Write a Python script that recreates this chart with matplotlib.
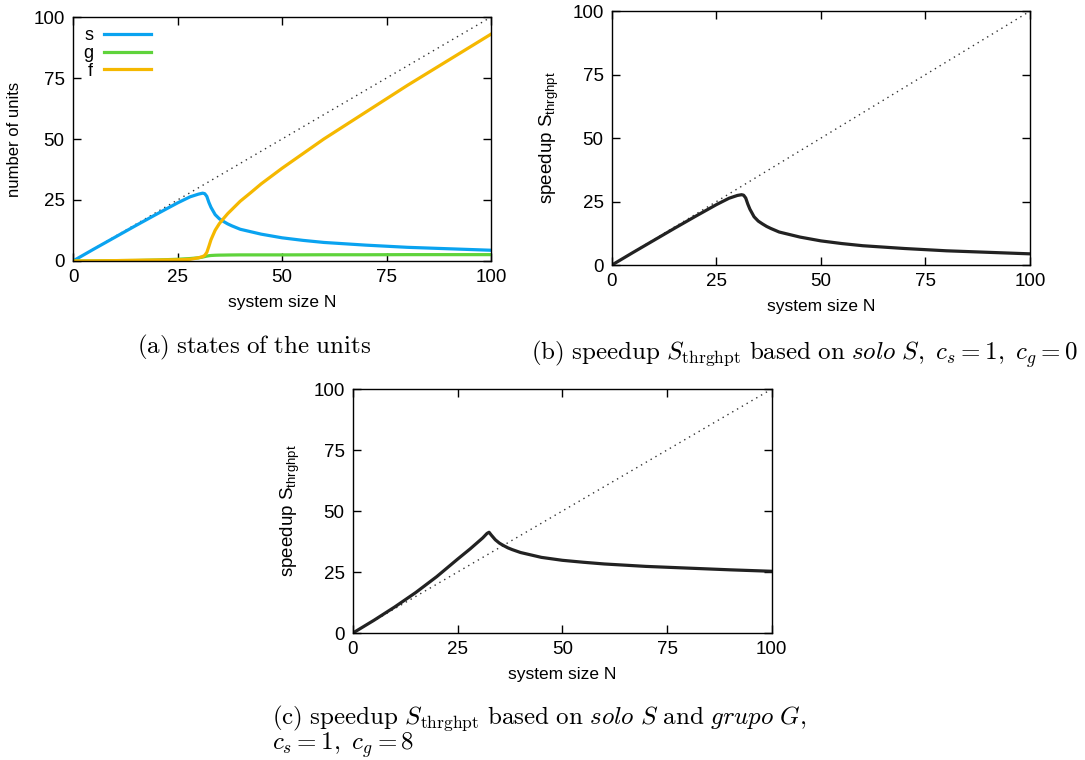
import matplotlib
matplotlib.use("Agg")
import matplotlib.pyplot as plt

plt.rcParams['font.family'] = ['Liberation Sans', 'DejaVu Sans']
plt.rcParams['mathtext.fontset'] = 'custom'
plt.rcParams['mathtext.rm'] = 'Liberation Sans'
plt.rcParams['mathtext.it'] = 'Liberation Sans:italic'

# system size N
N = [0, 5, 10, 15, 20, 25, 28, 30, 31, 31.5, 32, 32.5, 33, 34, 35, 36, 37, 38, 40, 42.5, 45,
     50, 55, 60, 70, 80, 90, 100]

# (a) states of the units
s = [0, 4.9, 9.7, 14.5, 19.2, 23.8, 26.3, 27.4, 27.8, 27.6, 26.5, 24.0, 22.0, 19.0, 17.3,
     16.2, 15.2, 14.4, 13.0, 12.0, 11.0, 9.5, 8.45, 7.6, 6.5, 5.6, 5.0, 4.4]
g = [0, 0.05, 0.15, 0.2, 0.4, 0.7, 1.0, 1.3, 1.6, 1.8, 2.0, 2.15, 2.25, 2.35, 2.4,
     2.42, 2.45, 2.47, 2.5, 2.5, 2.5, 2.5, 2.52, 2.55, 2.55, 2.6, 2.6, 2.6]
f = [0, 0.05, 0.15, 0.3, 0.4, 0.5, 0.7, 1.3, 1.8, 2.3, 3.5, 6.0, 8.7, 12.6, 15.3,
     17.4, 19.4, 21.1, 24.5, 28.0, 31.6, 38.0, 44.0, 50.0, 61.0, 72.0, 82.5, 93.0]

# (b) speedup, c_s = 1, c_g = 0
speed_b = [0, 4.9, 9.7, 14.5, 19.2, 23.8, 26.3, 27.4, 27.7, 27.5, 26.4, 24.0, 22.0, 19.0, 17.3,
           16.2, 15.2, 14.4, 13.0, 12.0, 11.0, 9.5, 8.45, 7.6, 6.5, 5.6, 5.0, 4.4]

# (c) speedup, c_s = 1, c_g = 8
speed_c = [0, 5.2, 10.7, 16.6, 23.1, 30.3, 34.5, 37.5, 39.0, 39.9, 40.8, 41.3, 40.2, 38.2, 36.8,
           35.8, 34.9, 34.2, 33.0, 32.0, 31.0, 29.8, 29.0, 28.3, 27.3, 26.6, 25.9, 25.3]

diag = [0, 100]
ticks = [0, 25, 50, 75, 100]

fig = plt.figure(figsize=(10.85, 7.6), dpi=100)


def style(ax, ylabel, ysize=12):
    ax.set_xlim(0, 100)
    ax.set_ylim(0, 100)
    ax.set_xticks(ticks)
    ax.set_yticks(ticks)
    ax.tick_params(direction='in', length=6, width=1, top=True, right=True,
                   labelsize=13.5, pad=6)
    for sp in ax.spines.values():
        sp.set_linewidth(1.0)
    ax.plot(diag, diag, color='#333333', lw=1.0, linestyle=(0, (1, 3)))
    ax.set_xlabel("system size N", fontsize=12.5, labelpad=6)
    ax.set_ylabel(ylabel, fontsize=ysize, labelpad=8)


# (a)
ax1 = fig.add_axes([0.0673, 0.6566, 0.3853, 0.321])
style(ax1, "number of units")
ax1.plot(N, s, color='#0aa3f0', lw=2.3, label='s')
ax1.plot(N, g, color='#5fd33b', lw=2.3, label='g')
ax1.plot(N, f, color='#f5b800', lw=2.3, label='f')
ax1.legend(loc='upper left', bbox_to_anchor=(0.0, 1.0), frameon=False, markerfirst=False,
           fontsize=13, labelspacing=0.05, handlelength=2.6, handletextpad=0.6,
           borderaxespad=0.15)

# (b)
ax2 = fig.add_axes([0.564, 0.6513, 0.3853, 0.334])
style(ax2, r"speedup S$_{\mathrm{thrghpt}}$", ysize=13.5)
ax2.plot(N, speed_b, color='#222222', lw=2.3)

# (c)
ax3 = fig.add_axes([0.3253, 0.1671, 0.386, 0.321])
style(ax3, r"speedup S$_{\mathrm{thrghpt}}$", ysize=13.5)
ax3.plot(N, speed_c, color='#222222', lw=2.3)

# captions
fig.text(254 / 1085, 1 - 347 / 760, r"$\mathrm{(a)\ states\ of\ the\ units}$",
         ha='center', va='center', fontsize=18, math_fontfamily='cm')
fig.text(531 / 1085, 1 - 354 / 760,
         r"$\mathrm{(b)\ speedup\ }S_{\mathrm{thrghpt}}\mathrm{\ based\ on\ }\mathit{solo}\ S,\ c_s=1,\ c_g=0$",
         ha='left', va='center', fontsize=18, math_fontfamily='cm')
fig.text(272 / 1085, 1 - 718 / 760,
         r"$\mathrm{(c)\ speedup\ }S_{\mathrm{thrghpt}}\mathrm{\ based\ on\ }\mathit{solo}\ S\mathrm{\ and\ }\mathit{grupo}\ G,$",
         ha='left', va='center', fontsize=18, math_fontfamily='cm')
fig.text(272 / 1085, 1 - 745 / 760, r"$c_s=1,\ c_g=8$",
         ha='left', va='center', fontsize=18, math_fontfamily='cm')

fig.savefig("out.png", dpi=100)
